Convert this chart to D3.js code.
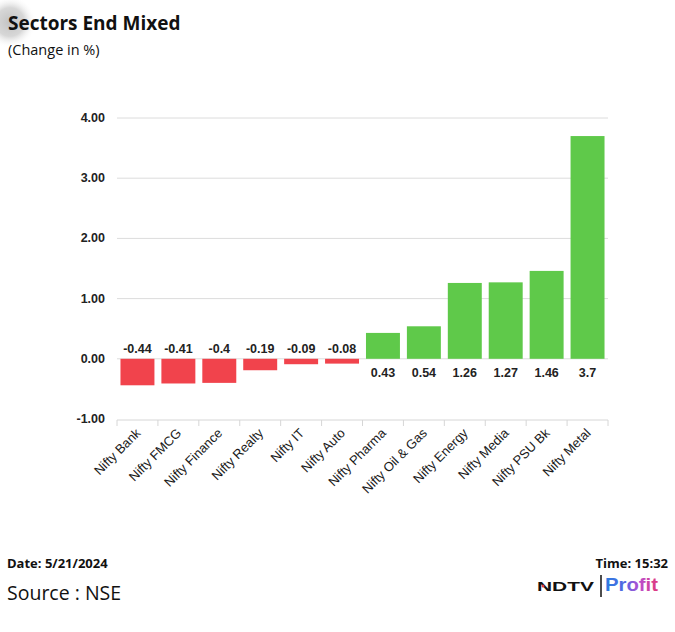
<!DOCTYPE html>
<html>
<head>
<meta charset="utf-8">
<script src="https://cdn.jsdelivr.net/npm/d3@7"></script>
<style>
  body { margin: 0; background: #fff; }
  svg { display: block; }
</style>
</head>
<body>
<div id="chart"></div>
<script>
const sectors = ["Nifty Bank", "Nifty FMCG", "Nifty Finance", "Nifty Realty", "Nifty IT", "Nifty Auto",
                 "Nifty Pharma", "Nifty Oil & Gas", "Nifty Energy", "Nifty Media", "Nifty PSU Bk", "Nifty Metal"];
const changes = [-0.44, -0.41, -0.4, -0.19, -0.09, -0.08, 0.43, 0.54, 1.26, 1.27, 1.46, 3.7];
const yTicks = [-1, 0, 1, 2, 3, 4];

const W = 675, H = 632;
const plot = {left: 117, right: 608, top: 118, bottom: 420};

const svg = d3.select("#chart").append("svg")
  .attr("width", W)
  .attr("height", H)
  .style("font-family", "Arial, 'Liberation Sans', sans-serif");

// soft grey blob in the corner
const defs = svg.append("defs");
const rg = defs.append("radialGradient").attr("id", "blob");
rg.append("stop").attr("offset", "0%").attr("stop-color", "#c2c2c2").attr("stop-opacity", 1);
rg.append("stop").attr("offset", "55%").attr("stop-color", "#cdcdcd").attr("stop-opacity", 0.8);
rg.append("stop").attr("offset", "100%").attr("stop-color", "#fff").attr("stop-opacity", 0);
svg.append("circle").attr("cx", 10).attr("cy", 22).attr("r", 26).attr("fill", "url(#blob)");

// titles
const cal = "'Open Sans', Carlito, Calibri, sans-serif";
svg.append("text").attr("x", 8).attr("y", 30)
  .style("font-family", cal)
  .style("font-size", "19px").style("font-weight", "bold").attr("fill", "#111")
  .text("Sectors End Mixed");
svg.append("text").attr("x", 8).attr("y", 55)
  .style("font-family", cal)
  .style("font-size", "14.5px").attr("fill", "#111")
  .text("(Change in %)");

const x = d3.scaleBand()
  .domain(sectors)
  .range([plot.left, plot.right])
  .paddingInner(0.17)
  .paddingOuter(0.085);

const y = d3.scaleLinear()
  .domain([-1, 4])
  .range([plot.bottom - 1, plot.top]);

// gridlines
svg.append("g").selectAll("line")
  .data(yTicks.filter(d => d > -1))
  .join("line")
  .attr("x1", plot.left).attr("x2", plot.right)
  .attr("y1", d => y(d)).attr("y2", d => y(d))
  .attr("stroke", "#dcdcdc").attr("stroke-width", 1);

// y labels
svg.append("g").selectAll("text")
  .data(yTicks)
  .join("text")
  .attr("x", 105)
  .attr("y", d => y(d) + 4)
  .attr("text-anchor", "end")
  .style("font-size", "12.5px").style("font-weight", "bold").attr("fill", "#222")
  .text(d => d.toFixed(2));

// x axis
const xAxis = svg.append("g")
  .attr("transform", `translate(0,${plot.bottom})`);
xAxis.append("line")
  .attr("x1", plot.left).attr("x2", plot.right)
  .attr("stroke", "#d6d6d6");
const step = x.step();
xAxis.selectAll(".tick")
  .data(d3.range(sectors.length + 1))
  .join("line")
  .attr("class", "tick")
  .attr("x1", i => plot.left + i * step).attr("x2", i => plot.left + i * step)
  .attr("y1", 0).attr("y2", 6)
  .attr("stroke", "#d6d6d6");

xAxis.selectAll(".lbl")
  .data(sectors)
  .join("text")
  .attr("class", "lbl")
  .attr("transform", d => `translate(${x(d) + x.bandwidth() / 2 - 3},${7}) rotate(-45)`)
  .attr("text-anchor", "end")
  .attr("dy", "0.75em")
  .style("font-size", "13px").attr("fill", "#1a1a1a")
  .text(d => d);

// bars
const data = sectors.map((s, i) => ({sector: s, value: changes[i]}));
svg.append("g").selectAll("rect")
  .data(data)
  .join("rect")
  .attr("x", d => x(d.sector))
  .attr("width", x.bandwidth())
  .attr("y", d => y(Math.max(0, d.value)))
  .attr("height", d => Math.abs(y(d.value) - y(0)))
  .attr("fill", d => d.value < 0 ? "#f1434c" : "#5fc94a");

// value labels (sit on the other side of the zero line)
svg.append("g").selectAll("text")
  .data(data)
  .join("text")
  .attr("x", d => x(d.sector) + x.bandwidth() / 2)
  .attr("y", d => d.value < 0 ? y(0) - 6 : y(0) + 18)
  .attr("text-anchor", "middle")
  .style("font-size", "12.5px").style("font-weight", "bold").attr("fill", "#222")
  .text(d => d.value);

// footer
svg.append("text").attr("x", 7).attr("y", 568)
  .style("font-family", cal).style("font-size", "13px").style("font-weight", "bold").attr("fill", "#111")
  .text("Date: 5/21/2024");
svg.append("text").attr("x", 7).attr("y", 600)
  .style("font-family", cal).style("font-size", "19.5px").attr("fill", "#111")
  .text("Source : NSE");
svg.append("text").attr("x", 668).attr("y", 568).attr("text-anchor", "end")
  .style("font-family", cal).style("font-size", "13px").style("font-weight", "bold").attr("fill", "#111")
  .text("Time: 15:32");

// logo
const lg = defs.append("linearGradient").attr("id", "profit");
lg.append("stop").attr("offset", "0%").attr("stop-color", "#2a7ce0");
lg.append("stop").attr("offset", "40%").attr("stop-color", "#5a66e2");
lg.append("stop").attr("offset", "65%").attr("stop-color", "#b84fd0");
lg.append("stop").attr("offset", "100%").attr("stop-color", "#e0397a");
svg.append("text").attr("x", 537).attr("y", 591)
  .attr("textLength", 57).attr("lengthAdjust", "spacingAndGlyphs")
  .style("font-family", "Arial, sans-serif").style("font-size", "13px").style("font-weight", "900")
  .attr("fill", "#111")
  .text("NDTV");
svg.append("circle").attr("cx", 543).attr("cy", 586).attr("r", 1.5).attr("fill", "#e23b3b");
svg.append("line").attr("x1", 601).attr("x2", 601).attr("y1", 575).attr("y2", 597)
  .attr("stroke", "#111").attr("stroke-width", 1.5);
svg.append("text").attr("x", 605).attr("y", 591)
  .attr("textLength", 53).attr("lengthAdjust", "spacingAndGlyphs")
  .style("font-family", "Arial, sans-serif").style("font-size", "18px").style("font-weight", "bold")
  .attr("fill", "url(#profit)")
  .text("Profit");
</script>
</body>
</html>
